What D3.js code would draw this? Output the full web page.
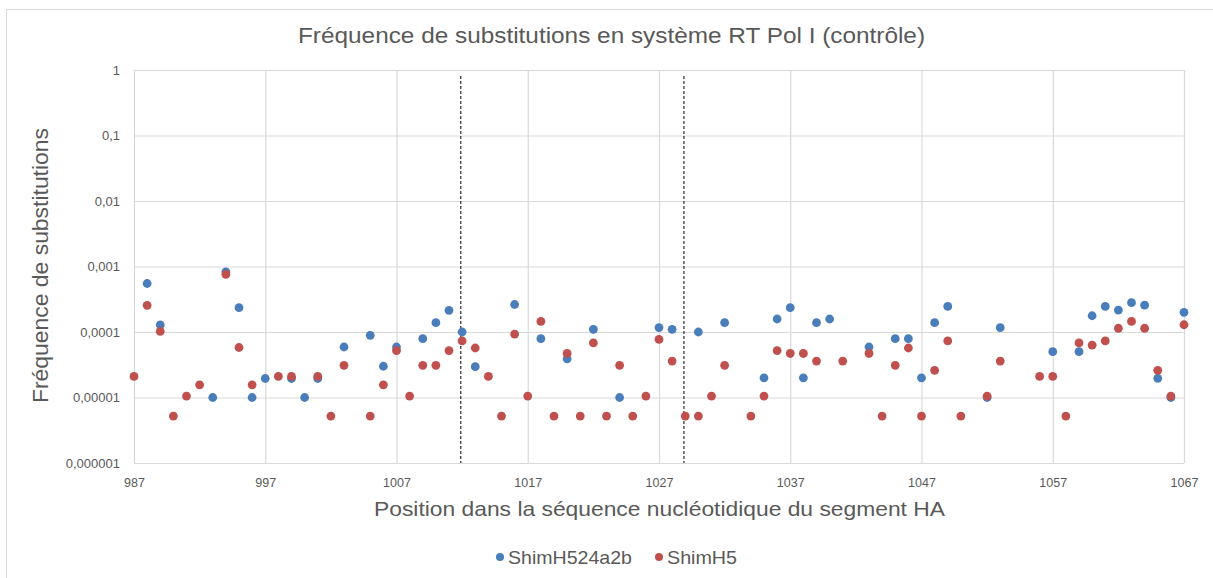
<!DOCTYPE html>
<html>
<head>
<meta charset="utf-8">
<script src="https://cdn.jsdelivr.net/npm/d3@7"></script>
<style>
  html, body { margin: 0; padding: 0; background: #fff; }
  svg { display: block; font-family: "Liberation Sans", Arial, sans-serif; }
</style>
</head>
<body>
<svg id="chart" width="1213" height="578"></svg>
<script>
// Substitution frequencies per nucleotide position (log scale)
const bluePositions = [988, 989, 993, 994, 995, 996, 997, 999, 1000, 1001, 1003, 1005, 1006, 1007,
  1009, 1010, 1011, 1012, 1013, 1016, 1018, 1020, 1022, 1024, 1027, 1028, 1030, 1032, 1035, 1036,
  1037, 1038, 1039, 1040, 1043, 1045, 1046, 1047, 1048, 1049, 1052, 1053, 1057, 1059, 1060, 1061,
  1062, 1063, 1064, 1065, 1066, 1067];
const blueValues = [5.5e-4, 1.28e-4, 1.0e-5, 8.3e-4, 2.35e-4, 1.0e-5, 1.95e-5, 1.95e-5, 1.0e-5, 1.95e-5,
  5.9e-5, 8.9e-5, 3.0e-5, 5.9e-5, 7.9e-5, 1.39e-4, 2.14e-4, 1.0e-4, 2.96e-5, 2.63e-4, 7.9e-5, 3.9e-5,
  1.1e-4, 1.0e-5, 1.17e-4, 1.1e-4, 1.0e-4, 1.39e-4, 2.0e-5, 1.58e-4, 2.35e-4, 2.0e-5, 1.39e-4, 1.58e-4,
  5.9e-5, 7.9e-5, 7.9e-5, 2.0e-5, 1.39e-4, 2.46e-4, 1.0e-5, 1.17e-4, 5.0e-5, 5.0e-5, 1.77e-4, 2.46e-4,
  2.16e-4, 2.8e-4, 2.57e-4, 1.96e-5, 1.0e-5, 2.0e-4];

const redPositions = [987, 988, 989, 990, 991, 992, 994, 995, 996, 998, 999, 1001, 1002, 1003, 1005,
  1006, 1007, 1008, 1009, 1010, 1011, 1012, 1013, 1014, 1015, 1016, 1017, 1018, 1019, 1020, 1021,
  1022, 1023, 1024, 1025, 1026, 1027, 1028, 1029, 1030, 1031, 1032, 1034, 1035, 1036, 1037, 1038,
  1039, 1041, 1043, 1044, 1045, 1046, 1047, 1048, 1049, 1050, 1052, 1053, 1056, 1057, 1058, 1059,
  1060, 1061, 1062, 1063, 1064, 1065, 1066, 1067];
const redValues = [2.1e-5, 2.55e-4, 1.02e-4, 5.2e-6, 1.05e-5, 1.56e-5, 7.6e-4, 5.8e-5, 1.56e-5, 2.1e-5,
  2.1e-5, 2.1e-5, 5.2e-6, 3.1e-5, 5.2e-6, 1.56e-5, 5.2e-5, 1.05e-5, 3.1e-5, 3.1e-5, 5.2e-5, 7.3e-5,
  5.7e-5, 2.1e-5, 5.2e-6, 9.3e-5, 1.05e-5, 1.45e-4, 5.2e-6, 4.7e-5, 5.2e-6, 6.8e-5, 5.2e-6, 3.1e-5,
  5.2e-6, 1.05e-5, 7.7e-5, 3.6e-5, 5.2e-6, 5.2e-6, 1.05e-5, 3.1e-5, 5.2e-6, 1.05e-5, 5.2e-5, 4.7e-5,
  4.7e-5, 3.6e-5, 3.6e-5, 4.7e-5, 5.2e-6, 3.1e-5, 5.7e-5, 5.2e-6, 2.6e-5, 7.3e-5, 5.2e-6, 1.05e-5,
  3.6e-5, 2.1e-5, 2.1e-5, 5.2e-6, 6.8e-5, 6.3e-5, 7.3e-5, 1.14e-4, 1.45e-4, 1.14e-4, 2.6e-5, 1.05e-5,
  1.29e-4];

const seriesNames = ["ShimH524a2b", "ShimH5"];
const xTickValues = [987, 997, 1007, 1017, 1027, 1037, 1047, 1057, 1067];
const yTickValues = [1e-6, 1e-5, 1e-4, 1e-3, 1e-2, 1e-1, 1];
const yTickLabels = ["0,000001", "0,00001", "0,0001", "0,001", "0,01", "0,1", "1"];
const boundaryPositions = [1011.9, 1028.9];

const colors = ["#4A7EBB", "#C0504D"];
const textColor = "#595959";
const gridColor = "#D9D9D9";

const svg = d3.select("#chart");
svg.append("rect").attr("width", 1213).attr("height", 578).attr("fill", "#fff");
// chart frame (only top/left edges fall inside the view)
svg.append("rect").attr("x", 6.5).attr("y", 9.5).attr("width", 1230).attr("height", 600)
  .attr("fill", "none").attr("stroke", gridColor).attr("stroke-width", 1);

const x = d3.scaleLinear().domain([987, 1067]).range([134, 1184]);
const y = d3.scaleLog().domain([1e-6, 1]).range([463, 70]);

// horizontal grid
svg.append("g")
  .attr("transform", `translate(${x(987)},0)`)
  .call(d3.axisLeft(y).tickValues(yTickValues).tickSize(-(x(1067) - x(987))).tickFormat(""))
  .call(g => g.select(".domain").remove())
  .call(g => g.selectAll("line").attr("stroke", gridColor).attr("stroke-width", 1.2));

// vertical grid
svg.append("g")
  .attr("transform", `translate(0,${y(1e-6)})`)
  .call(d3.axisBottom(x).tickValues(xTickValues).tickSize(-(y(1e-6) - y(1))).tickFormat(""))
  .call(g => g.select(".domain").remove())
  .call(g => g.selectAll("line").attr("stroke", gridColor).attr("stroke-width", 1.2));

// y tick labels
svg.append("g")
  .attr("transform", `translate(${x(987)},0)`)
  .call(d3.axisLeft(y).tickValues(yTickValues).tickSize(0).tickPadding(14)
    .tickFormat((d, i) => yTickLabels[i]))
  .call(g => g.select(".domain").remove())
  .call(g => g.selectAll("text").attr("fill", textColor).attr("font-size", 13));

// x tick labels
svg.append("g")
  .attr("transform", `translate(0,${y(1e-6)})`)
  .call(d3.axisBottom(x).tickValues(xTickValues).tickSize(0).tickPadding(15).tickFormat(d3.format("d")))
  .call(g => g.select(".domain").remove())
  .call(g => g.selectAll("text").attr("fill", textColor).attr("font-size", 12.5));

// boundary markers
svg.append("g").selectAll("line").data(boundaryPositions).join("line")
  .attr("x1", d => x(d)).attr("x2", d => x(d))
  .attr("y1", 76).attr("y2", y(1e-6))
  .attr("stroke", "#000").attr("stroke-width", 1).attr("stroke-dasharray", "3,2");

// points
const series = [
  { name: seriesNames[0], pos: bluePositions, val: blueValues, color: colors[0] },
  { name: seriesNames[1], pos: redPositions, val: redValues, color: colors[1] }
];
series.forEach(s => {
  svg.append("g").selectAll("circle").data(s.pos.map((p, i) => [p, s.val[i]])).join("circle")
    .attr("cx", d => x(d[0])).attr("cy", d => y(d[1])).attr("r", 4.4)
    .attr("fill", s.color);
});

// titles
svg.append("text").attr("x", 611.5).attr("y", 43).attr("text-anchor", "middle")
  .attr("font-size", 22).attr("fill", textColor)
  .attr("textLength", 627).attr("lengthAdjust", "spacingAndGlyphs")
  .text("Fréquence de substitutions en système RT Pol I (contrôle)");

svg.append("text").attr("x", 659.5).attr("y", 516).attr("text-anchor", "middle")
  .attr("font-size", 21).attr("fill", textColor)
  .attr("textLength", 571).attr("lengthAdjust", "spacingAndGlyphs")
  .text("Position dans la séquence nucléotidique du segment HA");

svg.append("text").attr("transform", "translate(48,265.5) rotate(-90)").attr("text-anchor", "middle")
  .attr("font-size", 22).attr("fill", textColor)
  .attr("textLength", 275).attr("lengthAdjust", "spacingAndGlyphs")
  .text("Fréquence de substitutions");

// legend
const legendX = [500, 659];
const legendW = [124, 70];
const legend = svg.append("g");
series.forEach((s, i) => {
  legend.append("circle").attr("cx", legendX[i]).attr("cy", 557).attr("r", 4).attr("fill", s.color);
  legend.append("text").attr("x", legendX[i] + 8).attr("y", 564)
    .attr("font-size", 19).attr("fill", textColor)
    .attr("textLength", legendW[i]).attr("lengthAdjust", "spacingAndGlyphs")
    .text(s.name);
});
</script>
</body>
</html>
